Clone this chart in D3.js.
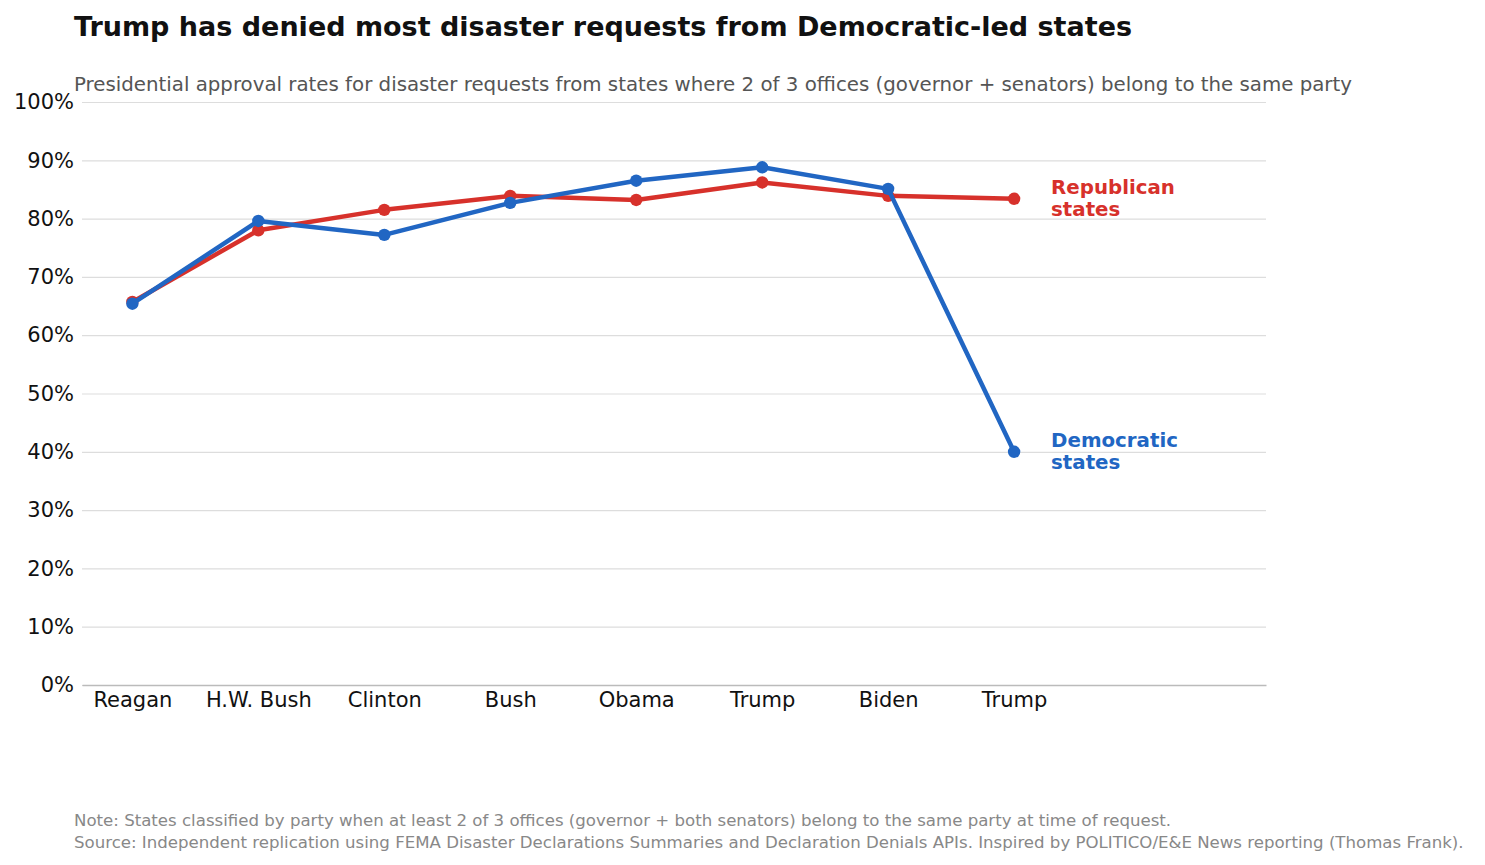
<!DOCTYPE html>
<html><head><meta charset="utf-8">
<script src="https://cdn.jsdelivr.net/npm/d3@7/dist/d3.min.js"></script>
<style>body{margin:0;background:#fff}svg{display:block}text{font-family:"DejaVu Sans",sans-serif}</style>
</head><body><svg id="c" width="1485" height="865"></svg>
<script>
const presidents = ["Reagan","H.W. Bush","Clinton","Bush","Obama","Trump","Biden","Trump"];
const republicanRates = [65.7, 78.0, 81.5, 83.9, 83.2, 86.2, 83.9, 83.4];
const democraticRates = [65.4, 79.6, 77.2, 82.7, 86.5, 88.8, 85.1, 40.0];
const yTicks = [0,10,20,30,40,50,60,70,80,90,100];

(function(){
const svg = d3.select("#c");
const mL = 82, mR = 1266, mT = 102, mB = 685;
const x = d3.scaleLinear().domain([-0.4, 9]).range([mL, mR]);
const y = d3.scaleLinear().domain([0, 100]).range([mB, mT]);

svg.append("text").attr("x",74).attr("y",36).attr("font-size",27).attr("font-weight","bold").attr("fill","#111").text("Trump has denied most disaster requests from Democratic-led states");
svg.append("text").attr("x",74).attr("y",91).attr("font-size",19.8).attr("fill","#555").text("Presidential approval rates for disaster requests from states where 2 of 3 offices (governor + senators) belong to the same party");

const gy = svg.append("g").attr("transform",`translate(${mL},0)`)
  .call(d3.axisLeft(y).tickValues(yTicks).tickFormat(d=>d+"%").tickSize(-(mR-mL)).tickPadding(8));
gy.select(".domain").remove();
gy.selectAll(".tick line").attr("stroke","#dddddd").attr("stroke-width",1.2);
gy.selectAll(".tick text").attr("font-size",21).attr("fill","#111").attr("font-family","DejaVu Sans, sans-serif").attr("x",-8);

const gx = svg.append("g").attr("transform",`translate(0,${mB})`)
  .call(d3.axisBottom(x).tickValues(d3.range(presidents.length)).tickFormat(i=>presidents[i]).tickSize(0).tickPadding(7));
gx.select(".domain").attr("stroke","#bbbbbb").attr("stroke-width",1.5);
gx.selectAll(".tick text").attr("font-size",21).attr("fill","#111").attr("font-family","DejaVu Sans, sans-serif");

const line = d3.line().x((d,i)=>x(i)).y(d=>y(d));
const series = [
  {vals: republicanRates, color:"#d7312b", label:["Republican","states"]},
  {vals: democraticRates, color:"#2166c3", label:["Democratic","states"]}
];
series.forEach(s=>{
  svg.append("path").datum(s.vals).attr("d",line).attr("fill","none").attr("stroke",s.color).attr("stroke-width",4.5).attr("stroke-linejoin","round");
  svg.selectAll(null).data(s.vals).enter().append("circle").attr("cx",(d,i)=>x(i)).attr("cy",d=>y(d)).attr("r",6.2).attr("fill",s.color);
  const last = s.vals[s.vals.length-1];
  const lx = x(s.vals.length-1)+37;
  const t = svg.append("text").attr("x",lx).attr("y",y(last)-5).attr("font-size",19.8).attr("font-weight","bold").attr("fill",s.color);
  t.append("tspan").attr("x",lx).text(s.label[0]);
  t.append("tspan").attr("x",lx).attr("dy",22.5).text(s.label[1]);
});

svg.append("text").attr("x",74).attr("y",826).attr("font-size",16.6).attr("fill","#888").text("Note: States classified by party when at least 2 of 3 offices (governor + both senators) belong to the same party at time of request.");
svg.append("text").attr("x",74).attr("y",848).attr("font-size",16.6).attr("fill","#888").text("Source: Independent replication using FEMA Disaster Declarations Summaries and Declaration Denials APIs. Inspired by POLITICO/E&E News reporting (Thomas Frank).");
})();
</script></body></html>
